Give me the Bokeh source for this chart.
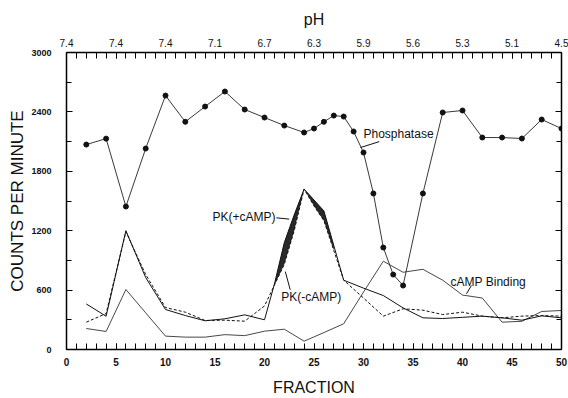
import numpy as np
from bokeh.plotting import figure
from bokeh.models import Range1d, LinearAxis, FixedTicker, Label
from bokeh.embed import file_html
from bokeh.resources import INLINE

# ---------------- data ----------------
fractions_phos = [2, 4, 6, 8, 10, 12, 14, 16, 18, 20, 22, 24, 25, 26, 27, 28, 29, 30,
                  31, 32, 33, 34, 36, 38, 40, 42, 44, 46, 48, 50]
phosphatase = [2070, 2130, 1444, 2030, 2565, 2300, 2454, 2606, 2424, 2343, 2262, 2192,
               2232, 2300, 2363, 2353, 2202, 1990, 1576, 1030, 757, 646, 1576, 2394,
               2414, 2141, 2141, 2131, 2323, 2232]

fractions_pk = [2, 4, 6, 8, 10, 12, 14, 16, 18, 20, 21, 22, 23, 24, 25, 26, 27, 28,
                30, 32, 34, 36, 38, 40, 42, 44, 46, 48, 50]
pk_plus = [460, 336, 1200, 727, 404, 343, 290, 310, 350, 300, 660, 1080, 1360, 1620,
           1510, 1400, 1050, 700, 620, 545, 420, 320, 313, 325, 337, 320, 296, 340, 320]
pk_minus = [276, 363, 1190, 757, 424, 377, 293, 296, 286, 440, 650, 860, 1200, 1620,
            1450, 1300, 1000, 700, 520, 337, 411, 397, 353, 377, 337, 320, 337, 343, 337]

fractions_camp = [2, 4, 6, 8, 10, 12, 14, 16, 18, 20, 22, 24, 26, 28, 30, 32, 34, 36,
                  38, 40, 42, 44, 46, 48, 50]
camp_binding = [212, 182, 606, 370, 135, 125, 125, 150, 140, 185, 205, 84, 171, 260,
                580, 892, 780, 810, 700, 550, 520, 276, 285, 384, 394]

x_ticks = [0, 5, 10, 15, 20, 25, 30, 35, 40, 45, 50]
ph_labels = ["7.4", "7.4", "7.4", "7.1", "6.7", "6.3", "5.9", "5.6", "5.3", "5.1", "4.5"]
y_ticks = [0, 600, 1200, 1800, 2400, 3000]
y_minor = [300, 900, 1500, 2100, 2700]

band_from, band_to = 21, 27

# curve labels: text, x, y, align ; leader lines
curve_labels = ["Phosphatase", "PK(+cAMP)", "PK(-cAMP)", "cAMP Binding"]
label_x = [30.0, 21.1, 21.7, 38.8]
label_y = [2181, 1340, 533, 683]
label_align = ["left", "right", "left", "left"]
leader_x0 = [31.6, 21.2, 22.6, 40.9]
leader_y0 = [2100, 1330, 603, 646]
leader_x1 = [29.7, 22.5, 22.1, 40.4]
leader_y1 = [2040, 1317, 787, 563]

FONT = "Liberation Sans"

# ---------------- figure ----------------
p = figure(width=568, height=398, x_range=Range1d(0, 50), y_range=Range1d(0, 3000),
           output_backend="svg", toolbar_location=None,
           min_border_left=66, min_border_right=7, min_border_top=52, min_border_bottom=48)
p.outline_line_color = None
p.xgrid.visible = False
p.ygrid.visible = False
p.background_fill_color = "white"
p.border_fill_color = "white"

# band between PK(+) and PK(-)
fx = np.array(fractions_pk)
mask = (fx >= band_from) & (fx <= band_to)
p.varea(x=fx[mask], y1=np.array(pk_minus)[mask], y2=np.array(pk_plus)[mask],
        fill_color="#111111", fill_alpha=0.9)

p.line(fractions_camp, camp_binding, line_color="#333333", line_width=0.9)
p.line(fractions_pk, pk_minus, line_color="#111111", line_width=1.0, line_dash="3 2")
p.line(fractions_pk, pk_plus, line_color="#111111", line_width=1.0)
p.line(fractions_phos, phosphatase, line_color="#222222", line_width=0.9)
p.scatter(fractions_phos, phosphatase, size=5, marker="circle",
          fill_color="#111111", line_color="#111111")

p.segment(x0=leader_x0, y0=leader_y0, x1=leader_x1, y1=leader_y1,
          line_color="#111111", line_width=1.0)
for t, lx, ly, al in zip(curve_labels, label_x, label_y, label_align):
    p.add_layout(Label(x=lx, y=ly, text=t, text_align=al, text_baseline="middle",
                       text_font=FONT, text_font_size="12px", text_color="#111111"))

# axes
def style(ax):
    ax.axis_line_color = "black"
    ax.axis_line_width = 1.5
    ax.major_tick_line_color = "black"
    ax.minor_tick_line_color = "black"
    ax.major_tick_in = 6
    ax.major_tick_out = 0
    ax.minor_tick_in = 5
    ax.minor_tick_out = 0
    ax.major_label_text_font = FONT
    ax.major_label_text_font_style = "bold"
    ax.major_label_text_color = "#111111"
    ax.axis_label_text_font = FONT
    ax.axis_label_text_font_style = "normal"
    ax.axis_label_text_color = "#111111"

xb = p.xaxis[0]
xb.ticker = FixedTicker(ticks=x_ticks, minor_ticks=list(range(0, 51)))
style(xb)
xb.minor_tick_in = 6
xb.major_label_text_font_size = "10px"
xb.major_label_standoff = 8
xb.axis_label = "FRACTION"
xb.axis_label_text_font_size = "16px"
xb.axis_label_standoff = 10

yl = p.yaxis[0]
yl.ticker = FixedTicker(ticks=y_ticks, minor_ticks=y_minor)
style(yl)
yl.major_label_text_font_size = "9px"
yl.major_label_standoff = 15
yl.axis_label = "COUNTS PER MINUTE"
yl.axis_label_text_font_size = "17px"
yl.axis_label_standoff = 1

xt = LinearAxis(ticker=FixedTicker(ticks=x_ticks, minor_ticks=list(range(0, 51))),
                major_label_overrides={t: s for t, s in zip(x_ticks, ph_labels)})
style(xt)
xt.minor_tick_in = 6
xt.major_label_text_font_size = "10px"
xt.major_label_text_font_style = "normal"
xt.major_label_standoff = 6
xt.axis_label = "pH"
xt.axis_label_text_font_size = "16px"
xt.axis_label_standoff = 8
p.add_layout(xt, "above")

yr = LinearAxis(ticker=FixedTicker(ticks=y_ticks, minor_ticks=y_minor),
                major_label_overrides={t: "" for t in y_ticks})
style(yr)
yr.major_label_standoff = 0
p.add_layout(yr, "right")

open("out.html", "w").write(file_html(p, INLINE))
